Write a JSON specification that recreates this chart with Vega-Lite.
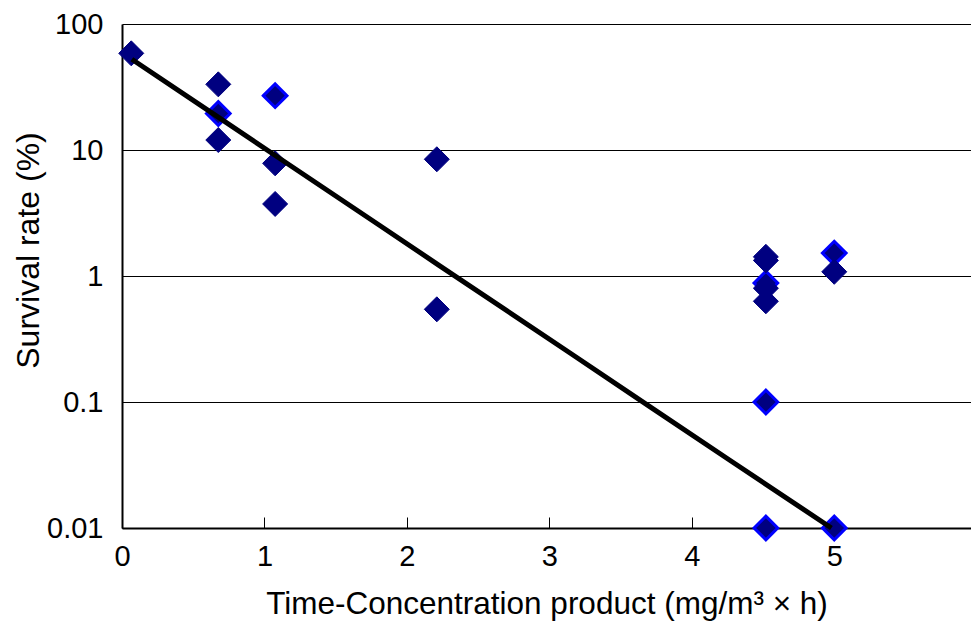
{
  "$schema": "https://vega.github.io/schema/vega-lite/v6.json",
  "width": 849,
  "height": 504,
  "autosize": {"type": "none"},
  "padding": {"left": 122, "top": 24, "right": 0, "bottom": 102},
  "background": "white",
  "config": {"view": {"stroke": null}, "font": "Liberation Sans"},
  "datasets": {
    "pts": [
      {"series": "B", "tc": 0.676, "survival": 19.5},
      {"series": "B", "tc": 1.075, "survival": 27.0},
      {"series": "B", "tc": 4.52, "survival": 0.88},
      {"series": "B", "tc": 4.52, "survival": 0.1},
      {"series": "B", "tc": 4.52, "survival": 0.01},
      {"series": "B", "tc": 5.0, "survival": 1.52},
      {"series": "B", "tc": 5.0, "survival": 0.01},
      {"series": "A", "tc": 0.065, "survival": 58.5},
      {"series": "A", "tc": 0.676, "survival": 33.2},
      {"series": "A", "tc": 0.676, "survival": 12.0},
      {"series": "A", "tc": 1.075, "survival": 7.84},
      {"series": "A", "tc": 1.075, "survival": 3.73},
      {"series": "A", "tc": 2.21, "survival": 8.44},
      {"series": "A", "tc": 2.21, "survival": 0.544},
      {"series": "A", "tc": 4.52, "survival": 1.42},
      {"series": "A", "tc": 4.52, "survival": 1.33},
      {"series": "A", "tc": 4.52, "survival": 0.8},
      {"series": "A", "tc": 4.52, "survival": 0.63},
      {"series": "A", "tc": 5.0, "survival": 1.08}
    ],
    "fit": [
      {"tc": 0.069, "survival": 52.5},
      {"tc": 0.67, "survival": 18.4},
      {"tc": 1.105, "survival": 8.6},
      {"tc": 1.807, "survival": 2.53},
      {"tc": 2.228, "survival": 1.21},
      {"tc": 3.14, "survival": 0.247},
      {"tc": 3.705, "survival": 0.092},
      {"tc": 4.267, "survival": 0.0345},
      {"tc": 4.98, "survival": 0.01}
    ]
  },
  "encoding": {
    "x": {
      "field": "tc",
      "type": "quantitative",
      "scale": {"domain": [0, 5.96], "nice": false, "zero": false},
      "axis": {
        "values": [0, 1, 2, 3, 4, 5],
        "format": "d",
        "grid": false,
        "domainColor": "black",
        "domainWidth": 2,
        "tickSize": -11,
        "tickColor": "black",
        "tickWidth": 1,
        "labelFont": "Liberation Sans",
        "labelFontSize": 29,
        "labelColor": "black",
        "labelBaseline": "alphabetic",
        "labelPadding": 48,
        "labelFlush": false,
        "labelOverlap": false,
        "title": "Time-Concentration product (mg/m³ × h)",
        "titleFont": "Liberation Sans",
        "titleFontSize": 31.5,
        "titleFontWeight": "normal",
        "titleColor": "black",
        "titleBaseline": "alphabetic",
        "titleY": 85
      }
    },
    "y": {
      "field": "survival",
      "type": "quantitative",
      "scale": {"type": "log", "domain": [0.01, 100], "nice": false},
      "axis": {
        "values": [0.01, 0.1, 1, 10, 100],
        "format": "~g",
        "grid": true,
        "gridColor": "black",
        "gridWidth": 1,
        "gridOpacity": 1,
        "domainColor": "black",
        "domainWidth": 2,
        "ticks": false,
        "labelFont": "Liberation Sans",
        "labelFontSize": 29,
        "labelColor": "black",
        "labelPadding": 19,
        "title": "Survival rate (%)",
        "titleFont": "Liberation Sans",
        "titleFontSize": 32,
        "titleFontWeight": "normal",
        "titleColor": "black",
        "titleAngle": -90,
        "titleAlign": "center",
        "titleBaseline": "middle",
        "titleX": -94,
        "titleY": 226
      }
    }
  },
  "layer": [
    {
      "data": {"name": "pts"},
      "mark": {"type": "point", "shape": "diamond", "filled": true, "opacity": 1},
      "encoding": {
        "fill": {"value": "#000080"},
        "stroke": {"condition": {"test": "datum.series === 'B'", "value": "#0000FF"}, "value": "#000080"},
        "strokeWidth": {"condition": {"test": "datum.series === 'B'", "value": 3}, "value": 1},
        "size": {"condition": {"test": "datum.series === 'B'", "value": 560}, "value": 625}
      }
    },
    {
      "data": {"name": "fit"},
      "mark": {"type": "line", "color": "black", "strokeWidth": 5, "strokeJoin": "round"},
      "encoding": {}
    }
  ]
}
